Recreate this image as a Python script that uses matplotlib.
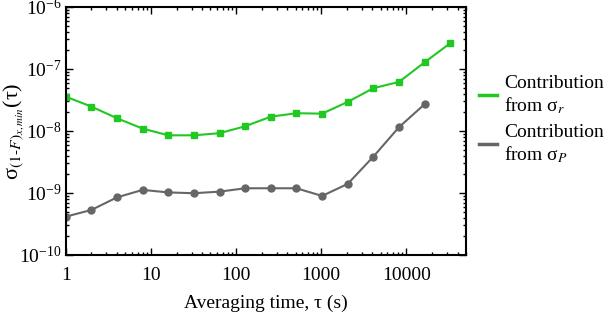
import numpy as np
import matplotlib
matplotlib.use('Agg')
import matplotlib.pyplot as plt
from matplotlib.ticker import LogLocator, NullFormatter

plt.rcParams['font.family'] = ['Liberation Serif', 'DejaVu Serif']
plt.rcParams['mathtext.fontset'] = 'stix'
plt.rcParams['font.size'] = 14

# averaging times (s)
tau_r = [1, 2, 4, 8, 16, 32, 64, 128, 256, 512, 1024, 2048, 4096, 8192, 16384, 32768]
tau_p = [1, 2, 4, 8, 16, 32, 64, 128, 256, 512, 1024, 2048, 4096, 8192, 16384]

sig_r = [3.57e-8, 2.47e-8, 1.6e-8, 1.09e-8, 8.5e-9, 8.5e-9, 9.2e-9, 1.19e-8,
         1.70e-8, 1.93e-8, 1.9e-8, 2.94e-8, 4.89e-8, 6.17e-8, 1.28e-7, 2.6e-7]
sig_p = [4.15e-10, 5.32e-10, 8.5e-10, 1.12e-9, 1.02e-9, 9.9e-10, 1.05e-9, 1.19e-9,
         1.19e-9, 1.19e-9, 8.95e-10, 1.40e-9, 3.85e-9, 1.15e-8, 2.7e-8]

labels = ['Contribution\nfrom σ$_r$', 'Contribution\nfrom σ$_P$']

fig = plt.figure(figsize=(6.09, 3.14), dpi=100)
ax = fig.add_axes([0.108, 0.188, 0.657, 0.790])

l1, = ax.plot(tau_r, sig_r, color='#22c822', lw=1.5, marker='s', ms=4.5)
l2, = ax.plot(tau_p, sig_p, color='#666666', lw=1.5, marker='o', ms=5)

ax.set_xscale('log')
ax.set_yscale('log')
ax.set_xlim(1, 50000)
ax.set_ylim(1e-10, 1e-6)
ax.set_xticks([1, 10, 100, 1000, 10000])
ax.set_xticklabels(['1', '10', '100', '1000', '10000'])
ax.yaxis.set_major_locator(LogLocator(base=10, numticks=10))
ax.yaxis.set_minor_locator(LogLocator(base=10, subs=np.arange(2, 10), numticks=10))
ax.yaxis.set_minor_formatter(NullFormatter())
ax.tick_params(which='both', direction='in', top=True, right=True, width=1)
ax.tick_params(which='major', length=5)
ax.tick_params(which='minor', length=2.5)
ax.tick_params(axis='x', pad=9)
ax.tick_params(axis='y', pad=3)
for s in ax.spines.values():
    s.set_linewidth(1.5)

ax.set_xlabel('Averaging time, τ (s)', fontsize=14)
ax.xaxis.set_label_coords(0.5, -0.16)
ax.set_ylabel('σ$_{(1\\text{-}F)_{x,min}}$(τ)', fontsize=16)
ax.yaxis.set_label_coords(-0.098, 0.5)

leg = ax.legend([l1, l2], labels, loc='center left', bbox_to_anchor=(1.0, 0.545),
                frameon=False, handlelength=0.9, handletextpad=0.35, labelspacing=0.4,
                borderaxespad=0.3, fontsize=14)
for h in leg.legend_handles:
    h.set_marker('')
    h.set_linewidth(2.5)

fig.savefig('out.png', dpi=100)
